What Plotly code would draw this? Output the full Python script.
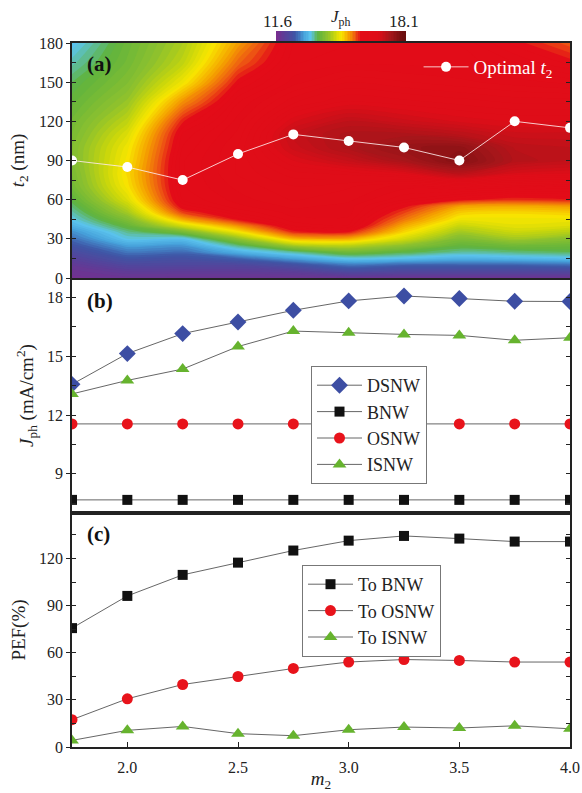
import numpy as np
import plotly.graph_objects as go

# ---------------- data ----------------
m2 = [1.75, 2.0, 2.25, 2.5, 2.75, 3.0, 3.25, 3.5, 3.75, 4.0]

# panel (a): J_ph map
JPH_MIN, JPH_MAX = 11.6, 18.1
t2_grid = [0, 5, 10, 15, 20, 25, 30, 35, 40, 45, 50, 55, 60, 70, 80, 90, 100, 110, 120, 135, 150, 165, 180]
level_m175 = [0.02, 0.03, 0.05, 0.08, 0.11, 0.14, 0.17, 0.20, 0.24, 0.27, 0.29, 0.31, 0.33, 0.36, 0.37, 0.38, 0.38, 0.37, 0.36, 0.34, 0.32, 0.29, 0.26]
level_m200 = [0.03, 0.06, 0.10, 0.14, 0.18, 0.22, 0.27, 0.30, 0.34, 0.38, 0.42, 0.45, 0.48, 0.51, 0.52, 0.51, 0.50, 0.48, 0.45, 0.41, 0.38, 0.36, 0.35]
level_m225 = [0.03, 0.06, 0.10, 0.13, 0.17, 0.21, 0.26, 0.36, 0.47, 0.56, 0.63, 0.67, 0.69, 0.70, 0.70, 0.70, 0.69, 0.68, 0.65, 0.58, 0.50, 0.45, 0.43]
level_m250 = [0.03, 0.06, 0.10, 0.16, 0.24, 0.31, 0.40, 0.50, 0.58, 0.66, 0.69, 0.71, 0.72, 0.73, 0.74, 0.74, 0.74, 0.73, 0.72, 0.70, 0.66, 0.61, 0.57]
level_m275 = [0.03, 0.07, 0.13, 0.22, 0.30, 0.43, 0.55, 0.64, 0.69, 0.71, 0.72, 0.73, 0.74, 0.75, 0.77, 0.80, 0.83, 0.84, 0.81, 0.76, 0.72, 0.70, 0.69]
level_m300 = [0.03, 0.11, 0.18, 0.27, 0.36, 0.45, 0.56, 0.65, 0.70, 0.71, 0.72, 0.72, 0.73, 0.74, 0.78, 0.84, 0.88, 0.88, 0.85, 0.79, 0.75, 0.71, 0.70]
level_m325 = [0.03, 0.10, 0.16, 0.26, 0.33, 0.40, 0.47, 0.52, 0.56, 0.60, 0.63, 0.66, 0.69, 0.72, 0.80, 0.89, 0.92, 0.88, 0.83, 0.78, 0.74, 0.71, 0.70]
level_m350 = [0.03, 0.10, 0.16, 0.24, 0.30, 0.34, 0.38, 0.42, 0.46, 0.50, 0.53, 0.57, 0.66, 0.73, 0.86, 0.95, 0.93, 0.86, 0.81, 0.77, 0.73, 0.71, 0.70]
level_m375 = [0.03, 0.10, 0.16, 0.25, 0.31, 0.36, 0.42, 0.46, 0.49, 0.50, 0.52, 0.56, 0.64, 0.72, 0.81, 0.87, 0.86, 0.83, 0.80, 0.76, 0.72, 0.69, 0.66]
level_m400 = [0.03, 0.10, 0.17, 0.26, 0.32, 0.35, 0.39, 0.44, 0.48, 0.50, 0.53, 0.57, 0.65, 0.71, 0.80, 0.85, 0.85, 0.83, 0.80, 0.76, 0.71, 0.66, 0.62]
optimal_t2 = [90, 85, 75, 95, 110, 105, 100, 90, 120, 115]

# panel (b): J_ph (mA/cm^2)
jph_dsnw = [13.57, 15.14, 16.16, 16.75, 17.35, 17.83, 18.08, 17.95, 17.81, 17.80]
jph_bnw = [7.67, 7.67, 7.67, 7.67, 7.67, 7.67, 7.67, 7.67, 7.67, 7.67]
jph_osnw = [11.55, 11.55, 11.55, 11.55, 11.55, 11.55, 11.55, 11.55, 11.55, 11.55]
jph_isnw = [13.08, 13.77, 14.35, 15.50, 16.29, 16.20, 16.12, 16.07, 15.82, 15.95]

# panel (c): PEF (%)
pef_bnw = [75.7, 96.2, 109.6, 117.4, 125.1, 131.4, 134.4, 132.7, 130.8, 130.8]
pef_osnw = [17.4, 30.7, 39.8, 44.9, 50.0, 54.1, 55.7, 55.1, 54.1, 54.1]
pef_isnw = [4.2, 10.6, 13.1, 8.5, 7.2, 11.0, 12.7, 12.1, 13.5, 11.6]

# ---------------- figure ----------------
FONT = "Liberation Serif"
W, H = 582, 793
ML, MR, MT, MB = 72, 12, 43, 46
PH = H - MT - MB
PW = W - ML - MR

levels = np.array([level_m175, level_m200, level_m225, level_m250, level_m275,
                   level_m300, level_m325, level_m350, level_m375, level_m400]).T
z = JPH_MIN + levels * (JPH_MAX - JPH_MIN)

cscale = [
    [0.00, "#7a2c8e"], [0.07, "#5b3f98"], [0.15, "#3e56a6"], [0.22, "#47a3dc"],
    [0.27, "#5cc5ee"], [0.33, "#5fb33e"], [0.40, "#8dc12e"], [0.46, "#c8d60c"],
    [0.51, "#f8e600"], [0.57, "#f5a200"], [0.62, "#ee5a12"], [0.66, "#e30c18"],
    [0.80, "#df0d18"], [0.90, "#a3161a"], [1.00, "#6a0e0e"],
]

def px_to_paper_x(px):
    return (px - ML) / PW

def px_to_paper_y(py):
    return (H - MB - py) / PH

fig = go.Figure()

fig.add_trace(go.Contour(
    x=m2, y=t2_grid, z=z, zmin=JPH_MIN, zmax=JPH_MAX,
    contours=dict(coloring="fill", start=JPH_MIN, end=JPH_MAX, size=0.08, showlines=False),
    line=dict(width=0, smoothing=0.8),
    colorscale=cscale, xaxis="x3", yaxis="y3", hoverinfo="skip",
    colorbar=dict(orientation="h", x=px_to_paper_x(340), xanchor="center",
                  y=px_to_paper_y(41), yanchor="bottom",
                  len=128 / PW, lenmode="fraction", thickness=10, showticklabels=False,
                  ticks="", outlinewidth=0, xpad=0, ypad=0),
))

fig.add_trace(go.Scatter(
    x=m2, y=optimal_t2, mode="lines+markers", name="Optimal <i>t</i><sub>2</sub>",
    line=dict(color="rgba(255,235,235,0.85)", width=1),
    marker=dict(color="white", size=10), xaxis="x3", yaxis="y3", legend="legend",
    cliponaxis=True,
))

LINEC = "#555555"
series_b = [
    ("DSNW", jph_dsnw, "diamond", "#3d4ea3", 13),
    ("BNW", jph_bnw, "square", "#111111", 10),
    ("OSNW", jph_osnw, "circle", "#e8131b", 11),
    ("ISNW", jph_isnw, "triangle-up", "#66b32e", 12),
]
for name, vals, sym, col, sz in series_b:
    fig.add_trace(go.Scatter(
        x=m2, y=vals, mode="lines+markers", name=name,
        line=dict(color=LINEC, width=0.9),
        marker=dict(symbol=sym, color=col, size=sz, line=dict(width=0)),
        xaxis="x2", yaxis="y2", legend="legend2", cliponaxis=True,
    ))

series_c = [
    ("To BNW", pef_bnw, "square", "#111111", 10),
    ("To OSNW", pef_osnw, "circle", "#e8131b", 11),
    ("To ISNW", pef_isnw, "triangle-up", "#66b32e", 12),
]
for name, vals, sym, col, sz in series_c:
    fig.add_trace(go.Scatter(
        x=m2, y=vals, mode="lines+markers", name=name,
        line=dict(color=LINEC, width=0.9),
        marker=dict(symbol=sym, color=col, size=sz, line=dict(width=0)),
        xaxis="x", yaxis="y", legend="legend3", cliponaxis=True,
    ))

# dummy traces for the extra tick axes
for xa, ya in [("x", "y4"), ("x2", "y5"), ("x3", "y6"), ("x", "y7"), ("x2", "y8"), ("x3", "y9")]:
    fig.add_trace(go.Scatter(x=[None], y=[None], xaxis=xa, yaxis=ya,
                             showlegend=False, hoverinfo="skip"))

d_c = [0, 234 / PH]
d_b = [234 / PH, 469 / PH]
d_a = [469 / PH, 1]

tickfont = dict(family=FONT, size=16, color="#222")
titlefont = dict(family=FONT, size=19, color="#222")
TC = "#222"

def xax(show, anchor):
    return dict(range=[1.75, 4.0], domain=[0, 1], anchor=anchor, automargin=False,
                showline=True, linecolor=TC, linewidth=1.6, mirror=True,
                showgrid=False, zeroline=False,
                ticks="inside" if show else "", ticklen=5, tickwidth=1.2, tickcolor=TC,
                dtick=0.5, tick0=2.0, tickformat=".1f", ticklabelstandoff=5,
                showticklabels=show, tickfont=tickfont)

def yax(domain, rng, dtick, anchor, title, standoff):
    return dict(domain=domain, range=rng, anchor=anchor, automargin=False,
                showline=True, linecolor=TC, linewidth=1.6, mirror=True,
                showgrid=False, zeroline=False,
                ticks="outside", ticklen=4, tickwidth=1.2, tickcolor=TC,
                dtick=dtick, tick0=0,
                tickfont=tickfont, title=dict(text=title, font=titlefont, standoff=standoff))

def yover(over, rng, dtick, anchor, side):
    return dict(overlaying=over, side=side, range=rng, anchor=anchor, automargin=False,
                showline=False, showgrid=False, zeroline=False, showticklabels=False,
                ticks="inside", ticklen=4, tickwidth=1.2, tickcolor=TC,
                dtick=dtick / 2, tick0=0)

R_C, R_B, R_A = [0, 149], [7, 19], [0, 180]

fig.update_layout(
    width=W, height=H, margin=dict(l=ML, r=MR, t=MT, b=MB, autoexpand=False),
    paper_bgcolor="white", plot_bgcolor="white",
    font=dict(family=FONT, color=TC),
    xaxis=dict(**xax(True, "y"), title=dict(text="<i>m</i><sub>2</sub>", font=titlefont, standoff=2)),
    xaxis2=xax(False, "y2"),
    xaxis3=xax(False, "y3"),
    yaxis=yax(d_c, R_C, 30, "x", "PEF(%)", 3),
    yaxis2=yax(d_b, R_B, 3, "x2", "<i>J</i><sub>ph</sub> (mA/cm<sup>2</sup>)", 3),
    yaxis3=yax(d_a, R_A, 30, "x3", "<i>t</i><sub>2</sub> (nm)", 4),
    yaxis4=yover("y", R_C, 30, "x", "right"),
    yaxis5=yover("y2", R_B, 3, "x2", "right"),
    yaxis6=yover("y3", R_A, 30, "x3", "right"),
    yaxis7=yover("y", R_C, 30, "x", "left"),
    yaxis8=yover("y2", R_B, 3, "x2", "left"),
    yaxis9=yover("y3", R_A, 30, "x3", "left"),
    legend=dict(x=0.975, xanchor="right", y=px_to_paper_y(48), yanchor="top",
                bgcolor="rgba(0,0,0,0)", borderwidth=0, itemwidth=45,
                font=dict(family=FONT, size=19, color="white")),
    legend2=dict(x=px_to_paper_x(311), xanchor="left", y=px_to_paper_y(366), yanchor="top",
                 bgcolor="white", bordercolor="#777", borderwidth=1, itemwidth=45,
                 font=dict(family=FONT, size=18, color=TC)),
    legend3=dict(x=px_to_paper_x(302), xanchor="left", y=px_to_paper_y(565), yanchor="top",
                 bgcolor="white", bordercolor="#777", borderwidth=1, itemwidth=45,
                 font=dict(family=FONT, size=18, color=TC)),
    showlegend=True,
)

annotations = [
    dict(text="<b>(a)</b>", x=px_to_paper_x(85), y=px_to_paper_y(64)),
    dict(text="<b>(b)</b>", x=px_to_paper_x(85), y=px_to_paper_y(301)),
    dict(text="<b>(c)</b>", x=px_to_paper_x(85), y=px_to_paper_y(534)),
]
for a in annotations:
    a.update(xref="paper", yref="paper", showarrow=False, xanchor="left", yanchor="middle",
             font=dict(family=FONT, size=21, color="#111"))
cb_ann = [
    dict(text="11.6", x=px_to_paper_x(277), y=px_to_paper_y(21)),
    dict(text="18.1", x=px_to_paper_x(404), y=px_to_paper_y(21)),
    dict(text="<i>J</i><sub>ph</sub>", x=px_to_paper_x(340), y=px_to_paper_y(18)),
]
for a in cb_ann:
    a.update(xref="paper", yref="paper", showarrow=False, xanchor="center", yanchor="middle",
             font=dict(family=FONT, size=17, color=TC))
fig.update_layout(annotations=annotations + cb_ann)

fig.write_html("out.html")
